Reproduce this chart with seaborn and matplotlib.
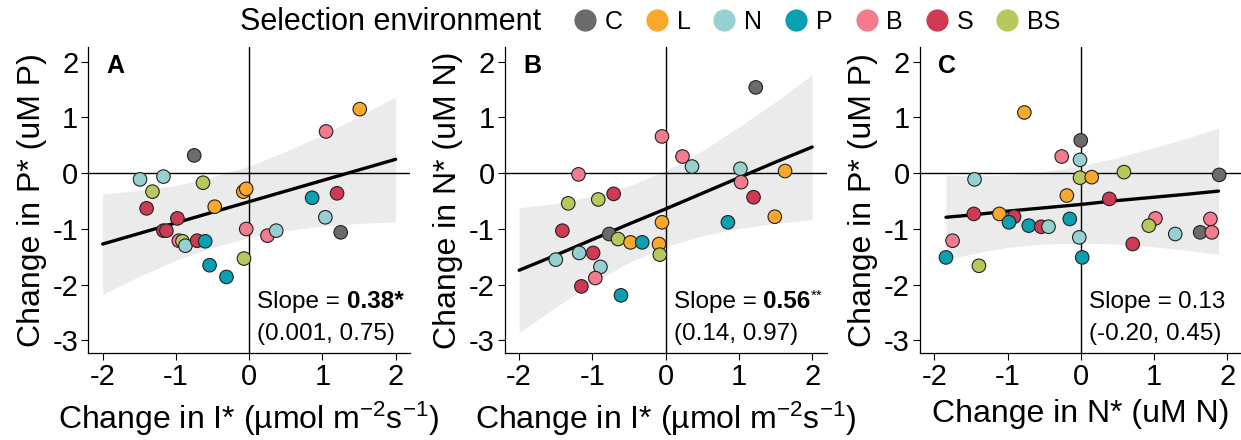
import numpy as np
import pandas as pd
import matplotlib
matplotlib.use("Agg")
import matplotlib.pyplot as plt
from matplotlib.lines import Line2D
import seaborn as sns

# ---------------- data ----------------
groups = ["C", "L", "N", "P", "B", "S", "BS"]
palette_colors = ["#6b6b6b", "#f9a82b", "#97d0d0", "#0aa0b2", "#f37b8e", "#cf3a53", "#b7c95c"]

# Panel A: change in I* vs change in P*
a_group = ["L", "B", "C", "N", "N", "BS", "BS", "L", "L", "P", "S", "S", "L", "S", "N",
           "S", "S", "B", "B", "N", "C", "B", "BS", "N", "S", "P", "P", "P", "BS"]
a_x = [1.51, 1.05, -0.75, -1.49, -1.17, -0.63, -1.32, -0.08, -0.04, 0.86, 1.20, -1.40, -0.47, -0.98, 1.04,
       -1.17, -1.13, -0.04, 0.25, 0.37, 1.25, -0.96, -0.91, -0.87, -0.71, -0.60, -0.54, -0.31, -0.07]
a_y = [1.15, 0.75, 0.32, -0.11, -0.06, -0.17, -0.33, -0.33, -0.28, -0.44, -0.36, -0.63, -0.60, -0.81, -0.79,
       -1.03, -1.03, -1.00, -1.12, -1.03, -1.06, -1.21, -1.22, -1.30, -1.21, -1.22, -1.65, -1.86, -1.53]
# fitted line and 95% band
a_fit_x = [-2.0, -1.5, -1.0, -0.5, 0.0, 0.5, 1.0, 1.5, 2.0]
a_fit_y = [-1.27, -1.08, -0.89, -0.70, -0.51, -0.32, -0.13, 0.06, 0.25]
a_fit_lo = [-2.17, -1.85, -1.56, -1.33, -1.15, -1.03, -0.95, -0.90, -0.87]
a_fit_hi = [-0.37, -0.31, -0.22, -0.07, 0.13, 0.39, 0.69, 1.02, 1.37]

# Panel B: change in I* vs change in N*
b_group = ["C", "B", "B", "N", "N", "L", "B", "B", "S", "S", "BS", "BS", "L", "L", "P",
           "S", "C", "BS", "L", "P", "L", "BS", "N", "S", "N", "N", "B", "S", "P"]
b_x = [1.23, -0.05, 0.23, 0.36, 1.02, 1.63, -1.19, 1.03, -0.71, 1.20, -1.33, -0.92, 1.49, -0.05, 0.85,
       -1.41, -0.77, -0.65, -0.48, -0.32, -0.09, -0.08, -1.18, -0.99, -1.50, -0.89, -0.96, -1.15, -0.61]
b_y = [1.54, 0.66, 0.30, 0.12, 0.08, 0.04, -0.02, -0.16, -0.37, -0.43, -0.54, -0.47, -0.78, -0.88, -0.88,
       -1.03, -1.09, -1.18, -1.24, -1.24, -1.27, -1.46, -1.43, -1.43, -1.55, -1.68, -1.88, -2.03, -2.19]
b_fit_x = [-2.0, -1.5, -1.0, -0.5, 0.0, 0.5, 1.0, 1.5, 2.0]
b_fit_y = [-1.74, -1.47, -1.19, -0.91, -0.64, -0.36, -0.08, 0.20, 0.47]
b_fit_lo = [-2.86, -2.40, -1.97, -1.60, -1.32, -1.12, -0.99, -0.90, -0.83]
b_fit_hi = [-0.62, -0.54, -0.41, -0.23, 0.05, 0.40, 0.83, 1.28, 1.77]

# Panel C: change in N* vs change in P*
c_group = ["L", "C", "B", "N", "N", "BS", "L", "BS", "C", "L", "S", "S", "L", "S", "P", "P",
           "S", "N", "P", "B", "BS", "N", "C", "B", "B", "N", "S", "B", "P", "P", "BS"]
c_x = [-0.77, 0.00, -0.26, -0.01, -1.45, -0.01, 0.15, 0.59, 1.89, -0.19, 0.39, -1.46, -1.11, -0.91, -0.98, -0.71,
       -0.54, -0.44, -0.15, 1.02, 0.93, 1.29, 1.63, 1.77, 1.79, -0.02, 0.71, -1.75, -1.84, 0.02, -1.39]
c_y = [1.09, 0.59, 0.30, 0.24, -0.11, -0.08, -0.07, 0.02, -0.03, -0.40, -0.46, -0.73, -0.73, -0.78, -0.88, -0.94,
       -0.96, -0.96, -0.82, -0.81, -0.94, -1.09, -1.06, -0.82, -1.06, -1.15, -1.27, -1.21, -1.51, -1.51, -1.66]
c_fit_x = [-1.84, -1.5, -1.0, -0.5, 0.0, 0.5, 1.0, 1.5, 1.88]
c_fit_y = [-0.79, -0.75, -0.68, -0.62, -0.56, -0.49, -0.43, -0.37, -0.32]
c_fit_lo = [-1.55, -1.45, -1.33, -1.27, -1.25, -1.27, -1.32, -1.39, -1.45]
c_fit_hi = [-0.03, -0.05, -0.03, 0.03, 0.13, 0.28, 0.46, 0.65, 0.81]

panel_letters = ["A", "B", "C"]
slope_values = ["0.38*", "0.56", "0.13"]
slope_bold = [True, True, False]
slope_sup = ["", "**", ""]
ci_texts = ["(0.001, 0.75)", "(0.14, 0.97)", "(-0.20, 0.45)"]
x_labels = [r"Change in I* (µmol m$^{-2}$s$^{-1}$)", r"Change in I* (µmol m$^{-2}$s$^{-1}$)", "Change in N* (uM N)"]
y_labels = ["Change in P* (uM P)", "Change in N* (uM N)", "Change in P* (uM P)"]
x_ticks = [-2, -1, 0, 1, 2]
y_ticks = [-3, -2, -1, 0, 1, 2]

# ---------------- style ----------------
sns.set_theme(style="ticks")
plt.rcParams["font.family"] = ["Liberation Sans", "DejaVu Sans"]
plt.rcParams["mathtext.fontset"] = "custom"
plt.rcParams["mathtext.rm"] = "Liberation Sans"
plt.rcParams["mathtext.it"] = "Liberation Sans:italic"
plt.rcParams["mathtext.bf"] = "Liberation Sans:bold"
plt.rcParams["axes.unicode_minus"] = False
for k in ["text.color", "axes.labelcolor", "xtick.color", "ytick.color", "axes.edgecolor"]:
    plt.rcParams[k] = "black"

palette = dict(zip(groups, palette_colors))

fig = plt.figure(figsize=(12.41, 4.40), dpi=100)
W, H = 1241.0, 440.0
lefts = [88.0, 504.5, 919.6]
ax_w = 322.3
top_px, bot_px = 46.7, 353.3

datasets = [(a_x, a_y, a_group, a_fit_x, a_fit_y, a_fit_lo, a_fit_hi),
            (b_x, b_y, b_group, b_fit_x, b_fit_y, b_fit_lo, b_fit_hi),
            (c_x, c_y, c_group, c_fit_x, c_fit_y, c_fit_lo, c_fit_hi)]
for i, (xs, ys, gs, fx, fy, flo, fhi) in enumerate(datasets):
    ax = fig.add_axes([lefts[i] / W, 1 - bot_px / H, ax_w / W, (bot_px - top_px) / H])
    df = pd.DataFrame({"x": xs, "y": ys, "g": gs})
    ax.fill_between(fx, flo, fhi, color="#ebebeb", lw=0, zorder=0.5)
    ax.axhline(0, color="black", lw=1.0, zorder=1)
    ax.axvline(0, color="black", lw=1.0, zorder=1)
    sns.lineplot(x=fx, y=fy, ax=ax, color="black", lw=2.4, zorder=3)
    sns.scatterplot(data=df, x="x", y="y", hue="g", palette=palette, hue_order=groups, ax=ax,
                    s=95, edgecolor="#222222", linewidth=0.8, legend=False, zorder=4)
    ax.set_xlim(-2.2, 2.2)
    ax.set_ylim(-3.23, 2.27)
    ax.set_xticks(x_ticks)
    ax.set_yticks(y_ticks)
    ax.tick_params(labelsize=21, length=5, width=0.8, pad=2)
    ax.set_xlabel(x_labels[i], fontsize=23, labelpad=6)
    ax.set_ylabel(y_labels[i], fontsize=23, labelpad=4)
    sns.despine(ax=ax)
    for sp in ["left", "bottom"]:
        ax.spines[sp].set_linewidth(0.9)
    ax.text(0.058, 0.975, panel_letters[i], transform=ax.transAxes, fontsize=18,
            fontweight="bold", ha="left", va="top")
    t1 = ax.text(0.11, -2.42, "Slope = ", fontsize=17.5, ha="left", va="baseline", zorder=5)
    t2 = ax.annotate(slope_values[i], xy=(1, 0), xycoords=t1, fontsize=17.5, va="bottom", ha="left",
                     fontweight="bold" if slope_bold[i] else "normal", zorder=5)
    if slope_sup[i]:
        ax.annotate(slope_sup[i], xy=(1, 0.45), xycoords=t2, fontsize=11, va="bottom", ha="left", zorder=5)
    ax.text(0.11, -2.88, ci_texts[i], fontsize=17.5, ha="left", va="center", zorder=5)

# ---------------- legend ----------------
fig.text(240 / W, 1 - 22 / H, "Selection environment", fontsize=22, ha="left", va="center")
handles = [Line2D([0], [0], marker="o", linestyle="none", markersize=16,
                  markerfacecolor=c, markeredgecolor="none") for c in palette_colors]
fig.legend(handles, groups, loc="center left", bbox_to_anchor=(560 / W, 1 - 22 / H),
           ncol=7, frameon=False, fontsize=18, handletextpad=0.2, columnspacing=0.75,
           borderaxespad=0, handlelength=1.2)

fig.savefig("out.png", dpi=100)
